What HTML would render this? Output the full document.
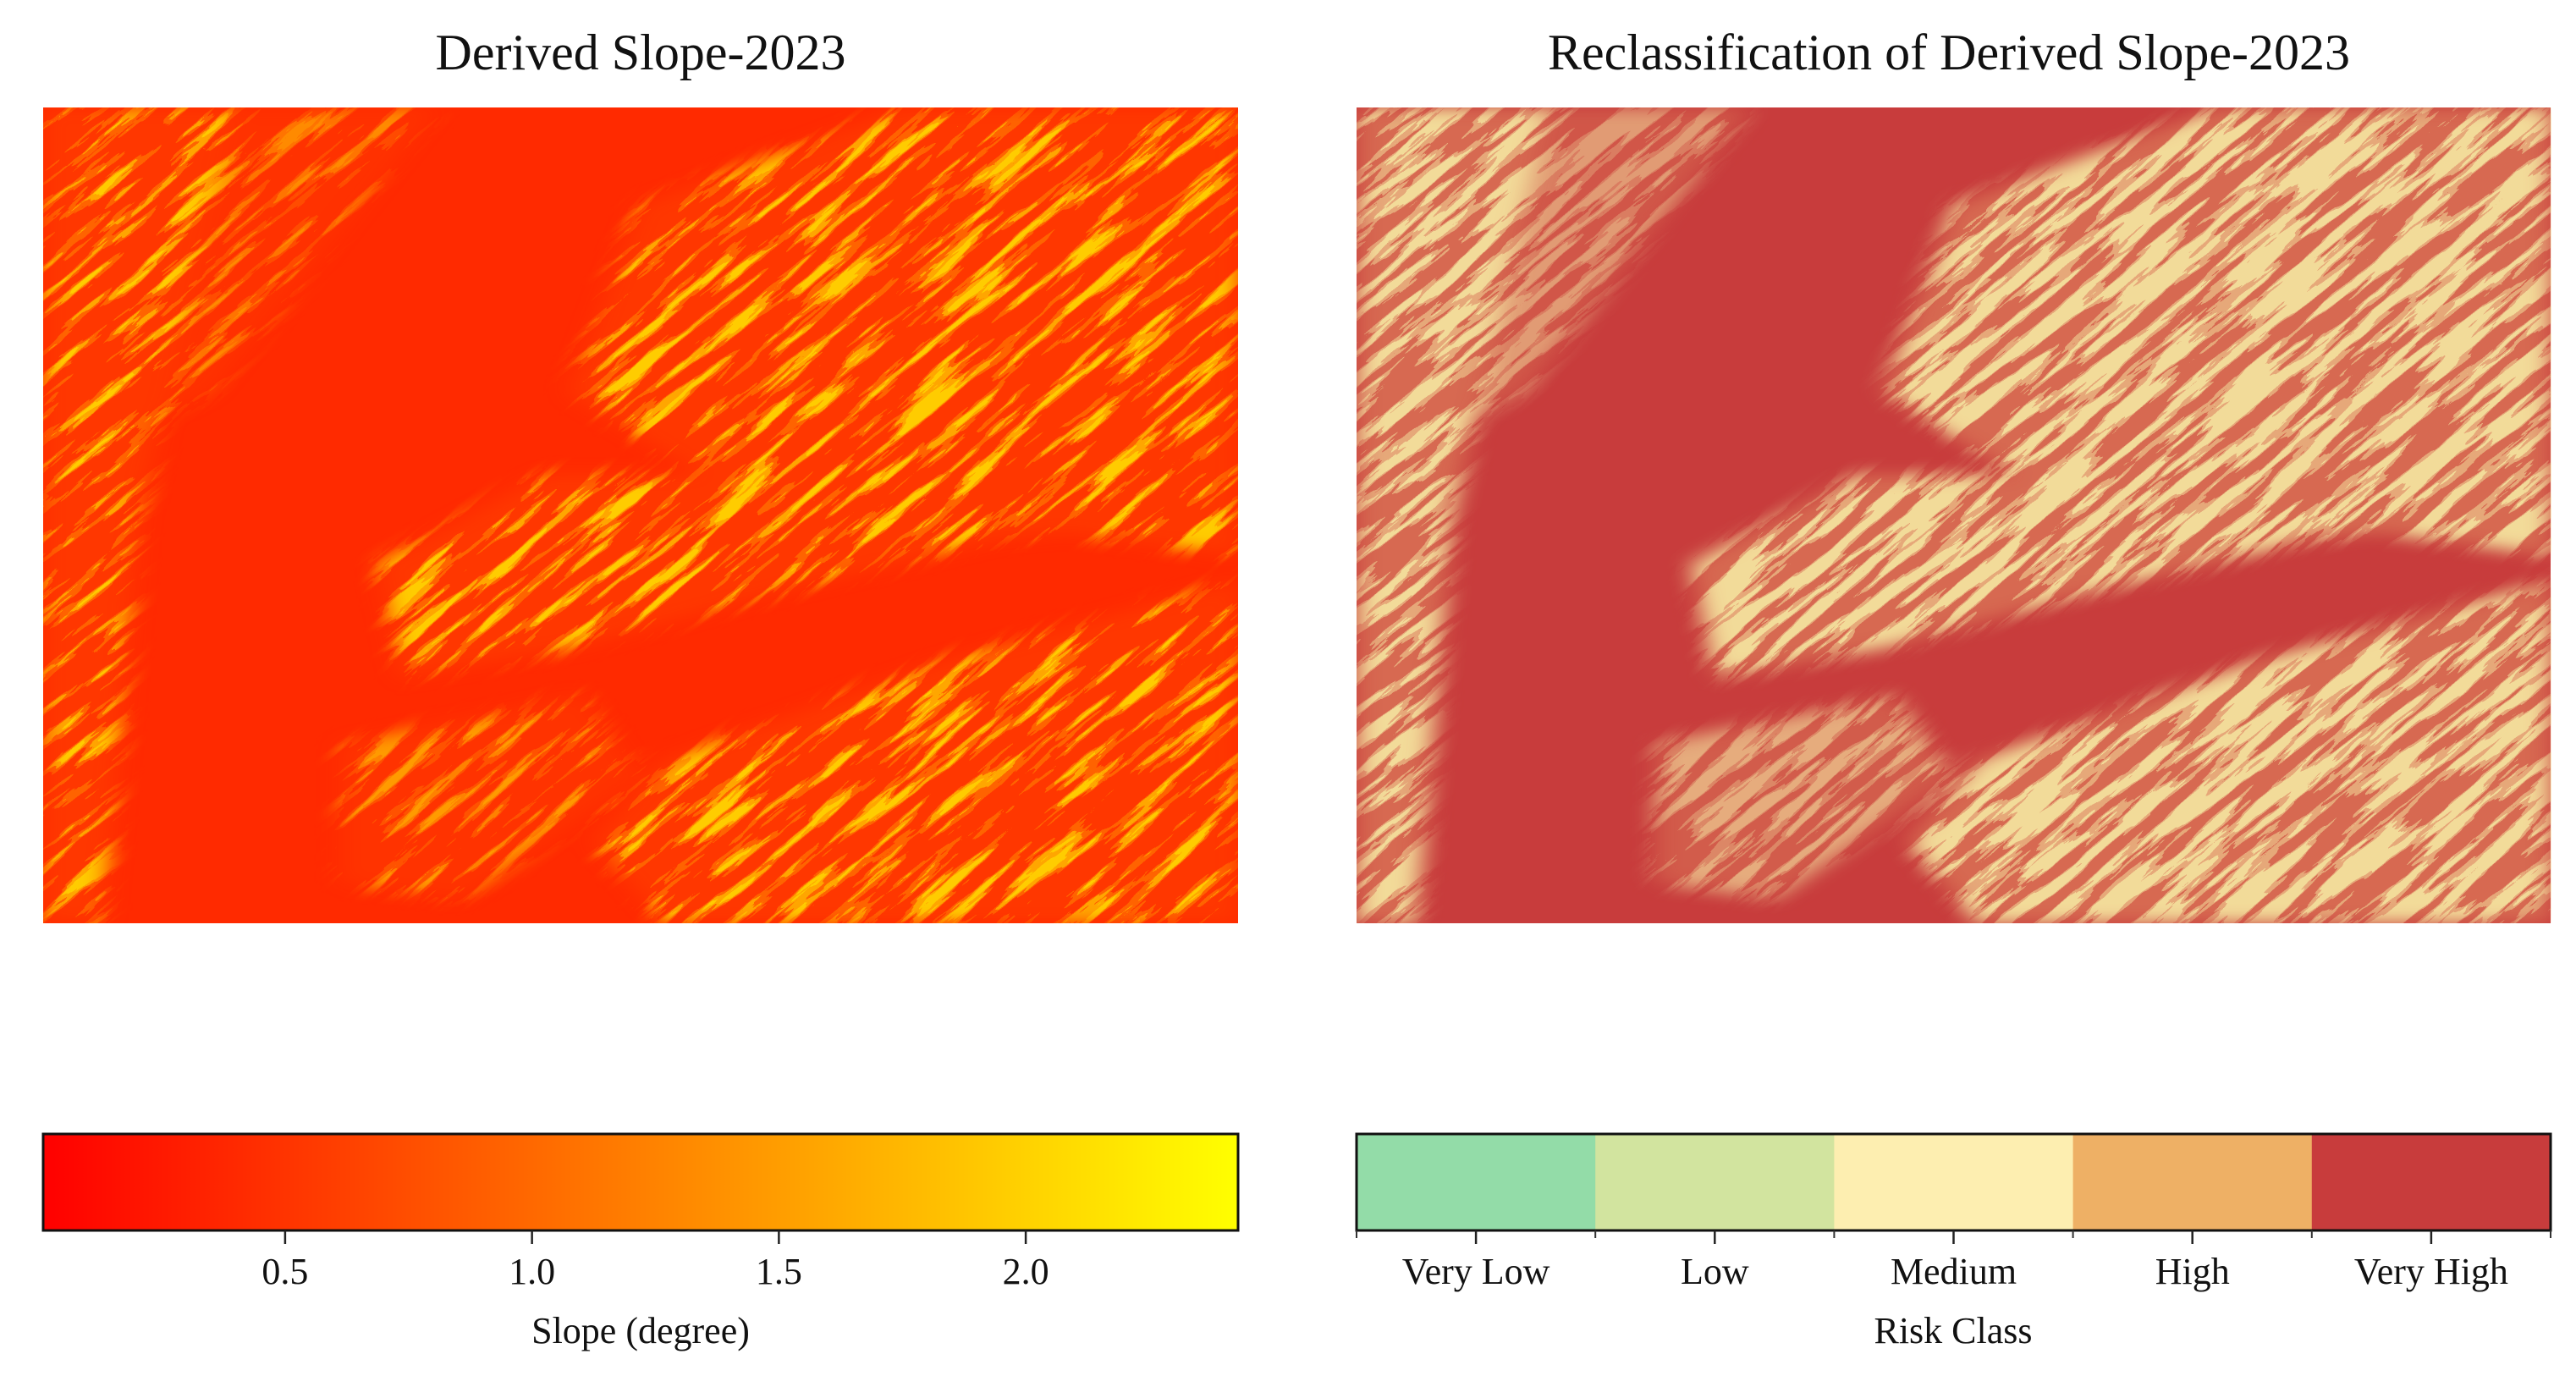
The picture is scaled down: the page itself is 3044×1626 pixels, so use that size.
<!DOCTYPE html>
<html><head><meta charset="utf-8">
<style>
html,body{margin:0;padding:0;background:#fff;width:3044px;height:1626px;overflow:hidden;}
svg{display:block;overflow:hidden;}
text{font-family:"Liberation Serif","DejaVu Serif",serif;fill:#111;}
</style></head>
<body>
<svg id="fig" width="3044" height="1626" viewBox="0 0 3044 1626" overflow="hidden">
<defs>
  <clipPath id="mapclip"><rect width="1412" height="964"/></clipPath>
  <filter id="texL" x="0" y="0" width="1" height="1" color-interpolation-filters="sRGB">
    <feTurbulence type="fractalNoise" baseFrequency="0.008 0.07" numOctaves="4" seed="7"/>
    <feColorMatrix type="matrix" values="0 0 0 0 1  0 0 0 0 0.8  0 0 0 0 0  3.2 0 0 0 -1.45"/>
    <feComponentTransfer><feFuncA type="discrete" tableValues="0 0.3 0.75 1"/></feComponentTransfer>
  </filter>
  <filter id="texR" x="0" y="0" width="1" height="1" color-interpolation-filters="sRGB">
    <feTurbulence type="fractalNoise" baseFrequency="0.008 0.07" numOctaves="4" seed="7"/>
    <feColorMatrix type="matrix" values="0 0 0 0 0.95  0 0 0 0 0.86  0 0 0 0 0.6  3.2 0 0 0 -1.25"/>
    <feComponentTransfer><feFuncA type="discrete" tableValues="0 0.55 1 1"/></feComponentTransfer>
  </filter>
  <filter id="bl" x="-0.1" y="-0.1" width="1.2" height="1.2"><feGaussianBlur stdDeviation="0.01"/></filter>
  <mask id="zones" maskUnits="userSpaceOnUse" x="0" y="0" width="1412" height="964">
    <g transform="scale(1412,964)" fill="#fff" filter="url(#bl)">
      <polygon points="0.5,0.12 0.72,0 1,0 1,0.55 0.75,0.5 0.55,0.45 0.44,0.35"/>
      <polygon points="0.28,0.56 0.42,0.45 0.7,0.45 1,0.5 0.8,0.53 0.6,0.6 0.45,0.66 0.3,0.7"/>
      <polygon points="0.52,0.8 0.75,0.68 1,0.58 1,1 0.52,1 0.46,0.9"/>
      <polygon points="0,0 0.16,0 0.08,0.5 0.05,1 0,1"/>
      <polygon points="0.25,0.78 0.45,0.72 0.5,0.82 0.35,0.97 0.25,0.95" fill-opacity="0.7"/>
      <polygon points="0,0 0.33,0 0.14,0.35 0,0.45" fill-opacity="0.6"/>
    </g>
  </mask>
  <linearGradient id="autumn" x1="0" x2="1" y1="0" y2="0">
    <stop offset="0" stop-color="#ff0000"/><stop offset="1" stop-color="#ffff00"/>
  </linearGradient>
</defs>

<text x="757" y="82" font-size="60" text-anchor="middle">Derived Slope-2023</text>
<text x="2303" y="82" font-size="60" text-anchor="middle">Reclassification of Derived Slope-2023</text>

<g transform="translate(51,127)">
  <g clip-path="url(#mapclip)">
    <rect width="1412" height="964" fill="#ff2a00"/>
    <g mask="url(#zones)">
      <rect width="1412" height="964" fill="#ff5500" opacity="0.3"/>
      <g transform="rotate(-40 706 482)"><rect x="-700" y="-700" width="2812" height="2364" filter="url(#texL)"/></g>
    </g>
  </g>
</g>

<g transform="translate(1603,127)">
  <g clip-path="url(#mapclip)">
    <rect width="1411" height="964" fill="#c83c3c"/>
    <g mask="url(#zones)">
      <rect width="1412" height="964" fill="#e9a06a" opacity="0.45"/>
      <g transform="rotate(-40 706 482)"><rect x="-700" y="-700" width="2812" height="2364" filter="url(#texR)"/></g>
    </g>
  </g>
</g>

<g id="cbL">
  <rect x="51" y="1340" width="1412" height="114" fill="url(#autumn)" stroke="#111" stroke-width="3"/>
</g>
<text x="757" y="1587" font-size="44" text-anchor="middle">Slope (degree)</text>

<g id="cbR"></g>
<text x="2308" y="1587" font-size="44" text-anchor="middle">Risk Class</text>

<script>
const slopeTicks = [0.5, 1.0, 1.5, 2.0];
const slopeTickLabels = ["0.5", "1.0", "1.5", "2.0"];
const slopeDomain = [0.01, 2.43];
const riskClasses = ["Very Low", "Low", "Medium", "High", "Very High"];
const riskColors = ["#93dca8", "#d2e49f", "#fdeeb0", "#eeb065", "#c83c3c"];

const NS = "http://www.w3.org/2000/svg";
function mk(tag, attrs, parent){const e=document.createElementNS(NS,tag);for(const k in attrs)e.setAttribute(k,attrs[k]);parent.appendChild(e);return e;}

const L0=51, L1=1463, barTop=1340, barBot=1454;
const xSlope = v => L0 + (v - slopeDomain[0])/(slopeDomain[1]-slopeDomain[0])*(L1-L0);
const cbL=document.getElementById('cbL');
slopeTicks.forEach((v,i)=>{
  const t=mk('line',{x1:xSlope(v),x2:xSlope(v),y1:barBot,y2:barBot+16,stroke:'#222','stroke-width':2.5},cbL);
  
  
  const tx=mk('text',{x:xSlope(v),y:1517,'font-size':44,'text-anchor':'middle'},cbL);
  tx.textContent=slopeTickLabels[i];
  
  
});

const R0=1603, R1=3014;
const cbR=document.getElementById('cbR');
const n=riskClasses.length, w=(R1-R0)/n;
const xRisk = i => R0 + i*w;
riskClasses.forEach((c,i)=>{
  const r=mk('rect',{x:xRisk(i),y:barTop,width:w+0.5,height:barBot-barTop,fill:riskColors[i]},cbR);
  
  
});
mk('rect',{x:R0,y:barTop,width:R1-R0,height:barBot-barTop,fill:'none',stroke:'#111','stroke-width':3},cbR);
for(let i=0;i<=n;i++){
  const b=mk('line',{x1:xRisk(i),x2:xRisk(i),y1:barBot,y2:barBot+9,stroke:'#333','stroke-width':2},cbR);
  
  
}
riskClasses.forEach((c,i)=>{
  const cx=xRisk(i)+w/2;
  const t=mk('line',{x1:cx,x2:cx,y1:barBot,y2:barBot+16,stroke:'#222','stroke-width':2.5},cbR);
  
  
  const tx=mk('text',{x:cx,y:1517,'font-size':44,'text-anchor':'middle'},cbR);
  tx.textContent=c;
  
  
});
</script>
</svg>
</body></html>
